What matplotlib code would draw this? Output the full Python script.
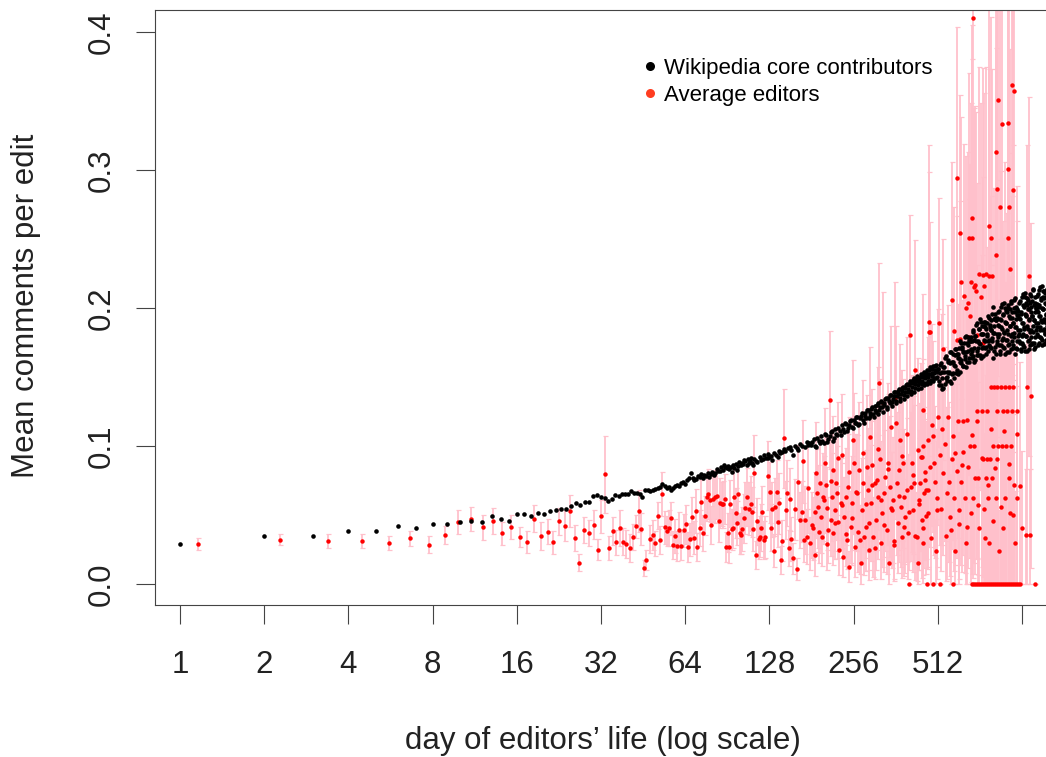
import numpy as np
import matplotlib
matplotlib.use("Agg")
import matplotlib.pyplot as plt
from matplotlib.lines import Line2D

# Mean comments per edit vs. day of editor's life

# core contributors: days 1-47
black_day_a = [1, 2, 3, 4, 5, 6, 7, 8, 9, 10, 11, 12, 13, 14, 15, 16, 17, 18, 19, 20, 21, 22, 23, 24,
               25, 26, 27, 28, 29, 30, 31, 32, 33, 34, 35, 36, 37, 38, 39, 40, 41, 42, 43, 44, 45, 46, 47]
black_val_a = [.029, .0348, .035, .0384, .0384, .0418, .0403, .0435, .0432, .045, .0459, .045, .049, .0473,
               .0457, .0507, .051, .0495, .0514, .0505, .0531, .0536, .0543, .0543, .0563, .0587, .0572,
               .0597, .0594, .0636, .0643, .0633, .0626, .060, .0616, .0647, .0638, .065, .0652, .065,
               .0672, .066, .066, .065, .063, .0684, .0681]

# core contributors: days 48-178
black_day_b = [48, 49, 50, 51, 52, 53, 54, 55, 56, 57, 58, 59, 60, 61, 62, 63, 64, 65, 66, 67, 68, 69, 70,
               71, 72, 73, 74, 75, 76, 77, 78, 79, 80, 81, 82, 83, 84, 85, 86, 87, 88, 89, 90, 91, 92, 93,
               94, 95, 96, 97, 98, 99, 100, 101, 102, 103, 104, 105, 106, 107, 108, 109, 110, 111, 112,
               113, 115, 116, 118, 119, 121, 122, 124, 126, 127, 128, 130, 131, 133, 135, 137, 139, 140,
               142, 144, 146, 149, 151, 153, 155, 158, 160, 162, 165, 168, 171, 174, 176, 178]
black_val_b = [.0675, .0681, .069, .0698, .0705, .0722, .071, .0693, .0702, .0681, .0695, .071, .072, .0712,
               .0734, .0741, .0728, .0754, .0768, .0802, .0772, .0754, .0761, .0785, .0778, .0795, .0772,
               .079, .0784, .0808, .0778, .0796, .0812, .0789, .0802, .0834, .0818, .0821, .0845, .0829,
               .0862, .0851, .0838, .0857, .0832, .0849, .0814, .0866, .0841, .0873, .0826, .0858, .0881,
               .0862, .0876, .0869, .0899, .0891, .0866, .0905, .0875, .0893, .0914, .0879, .0862, .0903,
               .0895, .0886, .0921, .0899, .0908, .0932, .091, .0915, .0941, .0922, .0928, .0899, .0951,
               .0934, .0922, .0962, .0947, .0955, .0978, .0961, .0983, .0992, .0974, .0935, .1003, .0988,
               .0971, .1012, .1001, .0995, .1026, .1009, .102]

# core contributors: days 180-512
black_day_c = [180, 184, 188, 192, 196, 200, 204, 208, 212, 216, 220, 224, 228, 232, 236, 240, 244, 248,
               252, 256, 260, 264, 268, 272, 276, 280, 284, 288, 292, 296, 300, 304, 308, 312, 316, 320,
               324, 328, 332, 336, 340, 344, 348, 352, 356, 360, 364, 368, 372, 376, 380, 384, 388, 392,
               396, 400, 404, 408, 412, 416, 420, 424, 428, 432, 436, 440, 444, 448, 452, 456, 460, 464,
               468, 472, 476, 480, 484, 488, 492, 496, 500, 504, 508, 512]
black_val_c = [.101, .105, .099, .104, .107, .102, .108, .105, .110, .104, .112, .108, .111, .115, .110,
               .116, .113, .118, .114, .119, .117, .121, .116, .122, .119, .124, .120, .126, .122, .127,
               .123, .129, .125, .131, .126, .132, .128, .130, .134, .128, .135, .131, .137, .132, .136,
               .139, .133, .138, .141, .135, .140, .143, .137, .142, .145, .139, .144, .147, .140, .146,
               .149, .142, .147, .151, .144, .148, .152, .145, .150, .154, .146, .151, .155, .147, .152,
               .157, .148, .153, .158, .149, .155, .159, .150, .156]

# core contributors: days 182-510 (in between the above)
black_day_e = [182, 186, 190, 194, 198, 202, 206, 210, 214, 218, 222, 226, 230, 234, 238, 242, 246, 250,
               254, 258, 262, 266, 270, 274, 278, 282, 286, 290, 294, 298, 302, 306, 310, 314, 318, 322,
               326, 330, 334, 338, 342, 346, 350, 354, 358, 362, 366, 370, 374, 378, 382, 386, 390, 394,
               398, 402, 406, 410, 414, 418, 422, 426, 430, 434, 438, 442, 446, 450, 454, 458, 462, 466,
               470, 474, 478, 482, 486, 490, 494, 498, 502, 506, 510]
black_val_e = [.103, .100, .106, .102, .104, .109, .103, .107, .111, .106, .109, .113, .108, .112, .117,
               .111, .115, .119, .113, .117, .121, .115, .120, .124, .117, .122, .126, .120, .124, .128,
               .121, .126, .130, .123, .128, .133, .125, .131, .135, .127, .133, .137, .129, .134, .139,
               .131, .136, .140, .133, .138, .142, .134, .139, .144, .136, .141, .146, .138, .143, .148,
               .139, .145, .149, .141, .146, .150, .142, .147, .152, .144, .149, .153, .145, .150, .155,
               .146, .151, .156, .147, .153, .158, .149, .154]

# core contributors: days 514-1266
black_day_d = [514, 518, 522, 526, 530, 534, 538, 542, 546, 550, 554, 558, 562, 566, 570, 574, 578, 582,
               586, 590, 594, 598, 602, 606, 610, 614, 618, 622, 626, 630, 634, 638, 642, 646, 650, 654,
               658, 662, 666, 670, 674, 678, 682, 686, 690, 694, 698, 702, 706, 710, 714, 718, 722, 726,
               730, 734, 738, 742, 746, 750, 754, 758, 762, 766, 770, 774, 778, 782, 786, 790, 794, 798,
               802, 806, 810, 814, 818, 822, 826, 830, 834, 838, 842, 846, 850, 854, 858, 862, 866, 870,
               874, 878, 882, 886, 890, 894, 898, 902, 906, 910, 914, 918, 922, 926, 930, 934, 938, 942,
               946, 950, 954, 958, 962, 966, 970, 974, 978, 982, 986, 990, 994, 998, 1002, 1006, 1010,
               1014, 1018, 1022, 1026, 1030, 1034, 1038, 1042, 1046, 1050, 1054, 1058, 1062, 1066, 1070,
               1074, 1078, 1082, 1086, 1090, 1094, 1098, 1102, 1106, 1110, 1114, 1118, 1122, 1126, 1130,
               1134, 1138, 1142, 1146, 1150, 1154, 1158, 1162, 1166, 1170, 1174, 1178, 1182, 1186, 1190,
               1194, 1198, 1202, 1206, 1210, 1214, 1218, 1222, 1226, 1230, 1234, 1238, 1242, 1246, 1250,
               1254, 1258, 1262, 1266]
black_val_d = [.156, .147, .159, .144, .154, .142, .157, .164, .149, .154, .147, .161, .153, .168, .146,
               .161, .167, .153, .159, .170, .153, .167, .152, .164, .171, .161, .175, .160, .170, .158,
               .168, .179, .165, .157, .175, .169, .179, .164, .176, .167, .179, .169, .183, .165, .177,
               .162, .180, .188, .169, .176, .166, .185, .174, .192, .164, .181, .187, .172, .177, .190,
               .171, .186, .167, .181, .189, .176, .193, .173, .186, .171, .184, .196, .178, .164, .192,
               .182, .196, .172, .191, .176, .193, .179, .197, .173, .187, .169, .191, .201, .177, .185,
               .172, .195, .182, .204, .167, .189, .198, .177, .184, .202, .173, .194, .168, .187, .199,
               .180, .204, .176, .193, .171, .189, .206, .182, .167, .197, .186, .201, .176, .195, .180,
               .198, .181, .204, .175, .192, .170, .196, .208, .180, .189, .173, .201, .185, .211, .169,
               .195, .204, .180, .187, .207, .176, .199, .170, .192, .204, .183, .209, .179, .197, .174,
               .194, .213, .187, .170, .202, .191, .208, .179, .200, .184, .203, .186, .209, .180, .197,
               .175, .201, .213, .184, .194, .178, .206, .190, .216, .173, .199, .208, .185, .192, .212,
               .181, .204, .175, .196, .208, .187, .213, .184, .202]

# core contributors: days 516-1264 (in between the above)
black_day_f = [516, 520, 524, 528, 532, 536, 540, 544, 548, 552, 556, 560, 564, 568, 572, 576, 580, 584,
               588, 592, 596, 600, 604, 608, 612, 616, 620, 624, 628, 632, 636, 640, 644, 648, 652, 656,
               660, 664, 668, 672, 676, 680, 684, 688, 692, 696, 700, 704, 708, 712, 716, 720, 724, 728,
               732, 736, 740, 744, 748, 752, 756, 760, 764, 768, 772, 776, 780, 784, 788, 792, 796, 800,
               804, 808, 812, 816, 820, 824, 828, 832, 836, 840, 844, 848, 852, 856, 860, 864, 868, 872,
               876, 880, 884, 888, 892, 896, 900, 904, 908, 912, 916, 920, 924, 928, 932, 936, 940, 944,
               948, 952, 956, 960, 964, 968, 972, 976, 980, 984, 988, 992, 996, 1000, 1004, 1008, 1012,
               1016, 1020, 1024, 1028, 1032, 1036, 1040, 1044, 1048, 1052, 1056, 1060, 1064, 1068, 1072,
               1076, 1080, 1084, 1088, 1092, 1096, 1100, 1104, 1108, 1112, 1116, 1120, 1124, 1128, 1132,
               1136, 1140, 1144, 1148, 1152, 1156, 1160, 1164, 1168, 1172, 1176, 1180, 1184, 1188, 1192,
               1196, 1200, 1204, 1208, 1212, 1216, 1220, 1224, 1228, 1232, 1236, 1240, 1244, 1248, 1252,
               1256, 1260, 1264]
black_val_f = [.144, .153, .160, .149, .141, .157, .154, .145, .165, .150, .162, .154, .147, .160, .168,
               .152, .161, .149, .166, .158, .170, .155, .167, .164, .154, .176, .162, .172, .158, .168,
               .175, .163, .180, .168, .161, .173, .177, .161, .176, .170, .164, .176, .184, .171, .161,
               .180, .176, .166, .189, .171, .185, .175, .166, .181, .190, .171, .181, .165, .187, .176,
               .190, .172, .185, .180, .169, .194, .177, .188, .172, .184, .191, .176, .201, .182, .169,
               .187, .193, .167, .191, .181, .174, .188, .198, .181, .167, .192, .186, .173, .203, .178,
               .196, .183, .171, .190, .200, .177, .189, .168, .197, .181, .200, .174, .193, .187, .170,
               .205, .181, .197, .173, .189, .200, .179, .207, .186, .171, .192, .199, .170, .195, .184,
               .176, .193, .205, .184, .169, .197, .189, .175, .210, .181, .202, .186, .172, .196, .208,
               .180, .194, .169, .202, .185, .206, .177, .199, .191, .173, .210, .184, .201, .175, .194,
               .205, .183, .214, .191, .175, .197, .204, .172, .200, .189, .181, .198, .210, .189, .173,
               .202, .194, .179, .215, .186, .207, .191, .177, .200, .212, .184, .199, .174, .207, .190,
               .211, .182, .203, .195, .177, .214, .189, .206]

# average editors: days 1-47 (mean, standard error)
red_day_a = [1.16, 2.28, 3.39, 4.48, 5.58, 6.66, 7.75, 8.83, 9.9, 11.0, 12.1, 13.2, 14.2, 15.3, 16.4, 17.4,
             18.5, 19.5, 20.6, 21.6, 22.7, 23.7, 24.8, 25.9, 26.8, 27.9, 29.0, 30.1, 31.1, 32.1, 33.2,
             34.1, 35.2, 36.2, 37.3, 38.4, 39.4, 40.5, 41.5, 42.6, 43.6, 44.5, 45.5, 46.4]
red_mean_a = [.029, .032, .031, .031, .030, .033, .0285, .0355, .045, .047, .041, .0454, .0367, .0413, .034,
              .0307, .0473, .0346, .0379, .0302, .0454, .0423, .0531, .0331, .0154, .0389, .0372, .043,
              .0249, .049, .0795, .0259, .0386, .0302, .0406, .0307, .029, .026, .034, .0418, .0529,
              .0396, .0116, .0174]
red_se_a = [.004, .004, .005, .005, .005, .0055, .006, .0066, .0086, .0086, .009, .0095, .0085, .0085, .0075,
            .008, .0098, .010, .009, .0085, .010, .011, .0117, .0095, .006, .0094, .0094, .0105, .0076,
            .0118, .028, .0088, .010, .009, .013, .0098, .010, .010, .0097, .0085, .015, .0116, .0055, .007]

# average editors: days 48-170
red_day_b = [48, 49, 50, 51, 52, 52.8, 54, 55, 56, 57, 58, 59, 60, 61, 62, 63.3, 64.4, 65.5, 66.5, 67.6,
             68.6, 69.8, 70.8, 72, 73, 74, 75.1, 76.3, 77.3, 78.5, 79.4, 80.6, 81.8, 83, 84.3, 85.2, 86.5,
             87.6, 88.6, 89.6, 90.7, 91.7, 92.8, 93.8, 94.9, 96, 97.1, 98.2, 99.1, 100.2, 101.3, 102.5,
             103.9, 105, 106.3, 108.5, 109.9, 111, 111.9, 113, 115, 116, 117, 118, 119, 120.7, 122, 123.7,
             127, 128.6, 129.8, 131, 133.4, 134.3, 136, 137, 139, 140.6, 142.4, 144.7, 146.2, 148.2,
             149.9, 151.6, 153.5, 155.4, 157.4, 160, 162.6, 164.8, 166.9, 168.7, 169.9]
red_mean_b = [.0328, .0355, .0295, .0495, .0319, .065, .041, .0384, .0404, .0478, .0283, .0348, .0275, .0391,
              .0275, .0389, .0433, .0268, .0324, .0483, .0336, .0531, .027, .0408, .0594, .0367, .0495,
              .0628, .0652, .0609, .0428, .0618, .0633, .064, .0454, .0589, .058, .0578, .0616, .027,
              .0372, .027, .0582, .0396, .0404, .0633, .0514, .0444, .065, .0367, .0355, .0396, .0476,
              .0551, .0628, .0546, .0582, .0522, .0401, .0802, .0212, .0454, .0324, .0343, .0408, .0519,
              .0319, .034, .0785, .0664, .0408, .0543, .0241, .056, .0669, .0447, .0585, .0174, .0314,
              .1056, .0536, .0657, .0259, .0614, .0324, .0186, .0541, .0106, .0741, .0464, .0524, .0889,
              .0319]
red_se_b = [.010, .011, .009, .0097, .010, .016, .012, .011, .013, .012, .010, .012, .011, .013, .010, .012,
            .014, .011, .012, .015, .012, .016, .010, .013, .016, .013, .014, .017, .018, .016, .014, .017,
            .019, .017, .015, .018, .016, .017, .018, .011, .014, .012, .017, .015, .014, .020, .018, .016,
            .021, .015, .014, .016, .018, .019, .021, .019, .020, .018, .016, .028, .010, .017, .014, .015,
            .017, .019, .014, .015, .025, .022, .017, .020, .012, .021, .023, .018, .022, .010, .015, .036,
            .021, .024, .013, .023, .016, .011, .022, .008, .027, .020, .022, .030, .016]

# average editors: days 171-478
red_day_c = [171.5, 174.7, 176.1, 178.7, 181.2, 183.7, 185.8, 187.8, 188.9, 191.4, 194, 195.1, 197.2,
             199.4, 201.7, 203.4, 205, 207.8, 210.7, 211.9, 213.7, 215.5, 216.6, 219.7, 221.5, 223.9,
             225.8, 227.6, 230.1, 232.1, 235.2, 237.1, 239.9, 241.9, 245.2, 247.2, 249.8, 251.9, 255.3,
             257.4, 258.9, 262.6, 266.1, 268.3, 271.3, 274.2, 277.2, 279.5, 282.8, 285.1, 288.2, 290.6,
             292.8, 296, 298.4, 300.9, 304.4, 307, 309.5, 312.9, 315.5, 318, 320.6, 323.3, 326.8, 329.5,
             332.3, 336.1, 338.9, 341.7, 345.2, 347.2, 351, 354.7, 357.7, 360.6, 364.8, 367.8, 370.9,
             374.8, 377.9, 381, 385.1, 388.3, 391.5, 396.1, 399.4, 407, 410.4, 413.8, 418.2, 421.7,
             425.2, 430.1, 433.7, 437.3, 441.9, 445.6, 449.3, 454.1, 457.9, 461.7, 470.9, 474.8, 477.2]
red_mean_c = [.0464, .0343, .0693, .0295, .0428, .0404, .021, .0807, .0657, .056, .073, .0488, .0343, .0633,
              .0874, .0717, .0548, .0391, .1333, .0464, .0633, .0826, .0367, .0536, .073, .0657, .0451,
              .0246, .0585, .0935, .0198, .0488, .0633, .0319, .0705, .0126, .0415, .0585, .1043, .0874,
              .027, .0657, .0379, .0826, .015, .0536, .073, .0343, .0415, .085, .0681, .0246, .1067, .0585,
              .0862, .0343, .073, .0464, .0754, .0633, .1459, .0903, .0295, .0512, .1314, .0657, .0778,
              .0391, .0874, .015, .0705, .114, .0536, .0609, .0283, .1346, .073, .044, .0826, .1043, .056,
              .0343, .0874, .0633, .0488, .0681, .0367, .1804, .0705, .0874, .0536, .073, .155, .0343, .015,
              .0609, .073, .0922, .0464, .0295, .0657, .0814, .1043, .1828, .19]
red_se_c = [.025, .020, .032, .019, .024, .023, .015, .037, .032, .030, .035, .026, .021, .032, .040, .035,
            .030, .024, .050, .026, .032, .039, .023, .030, .036, .034, .026, .018, .033, .044, .015, .029,
            .035, .021, .038, .011, .026, .034, .058, .051, .022, .042, .029, .049, .015, .038, .046, .028,
            .032, .052, .045, .022, .065, .042, .055, .029, .049, .036, .051, .045, .087, .058, .026, .039,
            .080, .046, .054, .032, .058, .016, .051, .073, .042, .046, .026, .084, .052, .036, .058, .070,
            .044, .030, .061, .049, .041, .052, .033, .087, .054, .064, .045, .057, .094, .032, .017, .051,
            .058, .068, .042, .029, .054, .064, .075, .116, .128]

# average editors: more days between 186 and 985
red_day_f = [186, 193, 200, 206, 213, 220, 226, 233, 240, 247, 253, 261, 269, 276, 283, 291, 299, 306, 314,
             322, 330, 339, 348, 356, 363, 372, 380, 389, 398, 405, 416, 424, 434, 440, 452, 463, 472, 484,
             496, 510, 530, 550, 570, 592, 608, 625, 650, 680, 710, 735, 755, 790, 820, 858, 885, 918, 948,
             985]
red_mean_f = [.052, .038, .061, .029, .075, .044, .091, .057, .036, .081, .048, .067, .032, .095, .058, .044,
              .072, .026, .098, .061, .043, .083, .055, .031, .117, .064, .093, .041, .109, .052, .079, .035,
              .097, .058, .126, .049, .068, .033, .088, .054, .112, .066, .039, .095, .054, .086, .041, .108,
              .057, .091, .033, .112, .084, .056, .111, .087, .050, .109]
red_se_f = [.029, .023, .032, .019, .036, .026, .041, .031, .023, .040, .034, .042, .025, .053, .039, .034,
            .046, .022, .059, .043, .034, .055, .041, .027, .070, .048, .062, .035, .070, .042, .057, .032,
            .067, .048, .084, .042, .056, .034, .067, .050, .084, .062, .041, .081, .056, .077, .048, .101,
            .067, .098, .042, .119, .098, .073, .140, .119, .073, .154]

# average editors: days 448-1103, below 0.2
red_day_d = [448, 454, 460.5, 465, 452, 473, 479, 486.6, 493, 500, 507, 504, 513.7, 521, 525.3, 532.7, 543,
             547.4, 557.8, 562.5, 565.7, 573.7, 581.4, 586.2, 589.5, 597.7, 605.7, 610.7, 617.9, 628.1,
             631.3, 640.2, 645.4, 652.4, 657.7, 667, 670.9, 685.5, 687, 695.1, 704.8, 707, 714.2, 720.1,
             734.4, 740.5, 748.5, 760.9, 765.2, 767, 771.6, 775.4, 781.9, 786.4, 791, 797.5, 804.1, 808.2,
             812.7, 826.3, 830.9, 833, 835.2, 838, 849, 861, 866, 873, 877.6, 889.9, 892, 897.2, 906.8,
             917.3, 921.9, 927.2, 932.6, 940.3, 952.9, 955, 966.2, 979.7, 984.7, 1006.8, 1021, 1057.8,
             1063.8, 1093.2, 1102.3]
red_mean_d = [.0918, .1, .0751, .0682, .0405, .0516, .0849, .1154, .107, .0738, .0627, .0238, .121, .0932,
              .0543, .0807, .1015, .0349, .121, .0738, .0488, .0904, .107, .0627, .0238, .0821, .1181, .0433,
              .0738, .1181, .0959, .0627, .0294, .1187, .0849, .1, .0516, .0627, .1, .0765, .1181, .1251,
              .0765, .0405, .1251, .0904, .0543, .0765, .1251, .0904, .0715, .0627, .0294, .0904, .1431,
              .0765, .1, .046, .1431, .0627, .1251, .0904, .1431, .1, .0238, .1431, .1, .0405, .1251, .1431,
              .0627, .1, .1251, .1431, .0765, .0516, .1, .1251, .1431, .0715, .0294, .1251, .0627, .071,
              .0405, .0355, .1431, .0355, .1364]
red_se_d = [.060, .063, .053, .050, .034, .041, .058, .073, .069, .055, .050, .023, .078, .065, .045, .060,
            .070, .033, .081, .058, .043, .065, .075, .053, .024, .063, .085, .040, .060, .088, .075, .055,
            .030, .090, .073, .081, .050, .058, .085, .069, .100, .106, .070, .043, .113, .085, .055, .075,
            .119, .088, .073, .065, .035, .090, .138, .078, .100, .050, .144, .069, .125, .094, .150, .106,
            .030, .156, .113, .048, .138, .163, .075, .119, .144, .169, .090, .063, .123, .156, .175, .088,
            .038, .163, .081, .090, .056, .048, .175, .048, .125]

# average editors: high means (above the core band)
red_day_e = [683, 600.8, 612, 676.4, 663.2, 680.9, 777, 792.9, 824, 837.8, 828, 836, 851, 868, 912, 914,
             920, 910, 944.9, 956, 950, 929.5, 1087, 718, 744.3, 763, 779.9, 802, 688, 697, 702, 730.2,
             746, 674, 620, 633, 647, 659, 665, 575, 535.4, 481, 516, 583, 615, 599, 661, 706, 742]
red_mean_e = [.41, .294, .2546, .2651, .2507, .2507, .2596, .2507, .2385, .3505, .3131, .2865, .2732, .3336,
              .3339, .3009, .2732, .2507, .3616, .3575, .2857, .228, .223, .2249, .2238, .2249, .223, .223,
              .2152, .2166, .2124, .2083, .2157, .2186, .2186, .2088, .20, .2033, .1944, .2055, .17, .1825,
              .1894, .1833, .1778, .177, .1791, .1805, .175]
red_se_e = [.20, .11, .10, .14, .12, .13, .17, .16, .15, .20, .19, .18, .17, .20, .20, .19, .18, .17, .21,
            .21, .19, .16, .13, .15, .15, .15, .15, .15, .13, .13, .13, .14, .14, .13, .12, .11, .11, .11,
            .11, .10, .08, .08, .09, .09, .10, .09, .10, .11, .12]

# average editors: days with a mean of zero
red_day_zero = [403, 467, 490.6, 523, 579, 678, 690, 701, 713, 724, 736, 748, 761, 774, 786, 799, 813, 826,
                840, 854, 868, 882, 897, 912, 927, 943, 958, 974, 991, 1007, 1139]

x_ticks = [1, 2, 4, 8, 16, 32, 64, 128, 256, 512, 1024]
x_tick_labels = ["1", "2", "4", "8", "16", "32", "64", "128", "256", "512", ""]
y_ticks = [0.0, 0.1, 0.2, 0.3, 0.4]

plt.rcParams['font.family'] = ['Liberation Sans', 'DejaVu Sans']

black_day = np.array(black_day_a + black_day_b + black_day_c + black_day_e + black_day_d + black_day_f,
                     dtype=float)
black_val = np.array(black_val_a + black_val_b + black_val_c + black_val_e + black_val_d + black_val_f)
red_day = np.array(red_day_a + red_day_b + red_day_c + red_day_f + red_day_d + red_day_e + red_day_zero,
                   dtype=float)
red_mean = np.array(red_mean_a + red_mean_b + red_mean_c + red_mean_f + red_mean_d + red_mean_e
                    + [0.0] * len(red_day_zero))
red_se = np.array(red_se_a + red_se_b + red_se_c + red_se_f + red_se_d + red_se_e
                  + [0.0] * len(red_day_zero))
red_lo = np.minimum(red_se, red_mean)

fig = plt.figure(figsize=(10.46, 7.57), dpi=100)
ax = fig.add_axes([155 / 1046, 152 / 757, 893 / 1046, 595 / 757])

ax.errorbar(red_day, red_mean, yerr=[red_lo, red_se], fmt='none', ecolor='#ffc0cb',
            elinewidth=1.3, capsize=1.8, capthick=0.9, zorder=1)
ax.plot(red_day, red_mean, 'o', color='red', ms=3.2, mew=0, zorder=2)
ax.plot(black_day, black_val, 'o', color='black', ms=3.3, mew=0, zorder=3)

ax.set_xscale('log', base=2)
ax.set_xlim(0.814, 1268)
ax.set_ylim(-0.0152, 0.416)
ax.set_xticks(x_ticks)
ax.set_xticklabels(x_tick_labels)
ax.minorticks_off()
ax.set_yticks(y_ticks)
ax.set_yticklabels([f"{v:.1f}" for v in y_ticks], rotation=90, va='center')
ax.tick_params(axis='both', length=13.5, width=0.8, color='#444444', labelsize=22.5, labelcolor='#222222')
ax.tick_params(axis='x', pad=19)
ax.tick_params(axis='y', pad=14)
for s in ax.spines.values():
    s.set_color('#444444')
    s.set_linewidth(0.8)

fig.text(26 / 1046, 1 - 306 / 757, "Mean comments per edit", rotation=90, ha='center', va='center',
         fontsize=22.5, color='#222222')
fig.text(603 / 1046, 1 - 741 / 757, "day of editors\u2019 life (log scale)", ha='center', va='center',
         fontsize=22.5, color='#222222')

handles = [Line2D([], [], marker='o', ls='none', color='black', ms=6.5, mew=0),
           Line2D([], [], marker='o', ls='none', color='#ff3d20', ms=6.5, mew=0)]
ax.legend(handles, ["Wikipedia core contributors", "Average editors"], loc='upper left',
          bbox_to_anchor=((642 - 155) / 893, (605 - 58) / 595), frameon=False, borderpad=0,
          borderaxespad=0, handlelength=0.7, handletextpad=0.3, labelspacing=0.26, fontsize=16)

fig.savefig("out.png", dpi=100)
